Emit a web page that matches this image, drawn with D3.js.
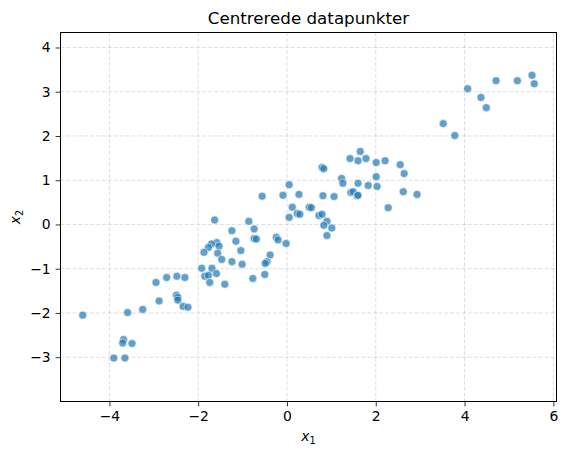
<!DOCTYPE html>
<html>
<head>
<meta charset="utf-8">
<script src="https://cdn.jsdelivr.net/npm/d3@7"></script>
<style>
  body { margin: 0; background: #fff; }
  svg { font-family: "DejaVu Sans", sans-serif; }
</style>
</head>
<body>
<svg id="chart" width="567" height="455"></svg>
<script>
// centred data points
var x1Values = [0.05, -0.56, -0.09, 0.27, 0.12, 0.23, 0.29, 0.05, 0.50, -1.63,
    -0.86, -1.24, -0.74, 5.52, 5.57, 5.19, 4.71, 4.07, 4.37, 4.49,
    3.52, 3.78, 1.65, 1.42, 1.60, 1.78, 2.01, 2.21, 2.55, 2.64,
    2.01, 0.79, 0.83, 1.23, 1.26, 1.60, 1.83, 2.03, 2.62, 2.93,
    1.44, 1.49, 1.58, 1.60, 0.81, 1.06, 2.28, 0.55, 0.72, 0.79,
    0.90, 0.83, 1.01, 0.90, -0.74, -0.69, -1.15, -0.24, -0.20, -0.02,
    -1.58, -1.70, -1.53, -1.77, -1.87, -1.56, -1.04, -1.47, -1.24, -1.01,
    -0.38, -0.45, -0.49, -0.50, -0.77, -1.92, -1.69, -1.59, -1.85, -1.77,
    -1.74, -1.40, -2.95, -2.71, -2.48, -2.30, -2.49, -2.46, -2.46, -2.34,
    -2.23, -2.88, -3.25, -3.59, -4.60, -3.68, -3.70, -3.49, -3.90, -3.65];
var x2Values = [0.90, 0.64, 0.66, 0.68, 0.39, 0.25, 0.23, 0.16, 0.39, 0.10,
    0.07, -0.14, -0.10, 3.37, 3.18, 3.25, 3.25, 3.07, 2.87, 2.64,
    2.28, 2.01, 1.65, 1.49, 1.44, 1.49, 1.40, 1.44, 1.35, 1.15,
    1.08, 1.29, 1.26, 1.04, 0.93, 0.93, 0.88, 0.86, 0.74, 0.68,
    0.72, 0.74, 0.65, 0.66, 0.65, 0.63, 0.38, 0.38, 0.20, 0.23,
    0.07, -0.02, -0.08, -0.25, -0.32, -0.33, -0.38, -0.29, -0.35, -0.43,
    -0.41, -0.44, -0.49, -0.52, -0.63, -0.65, -0.59, -0.79, -0.84, -0.90,
    -0.69, -0.84, -0.88, -1.13, -1.22, -0.99, -0.99, -1.11, -1.17, -1.15,
    -1.31, -1.35, -1.31, -1.20, -1.17, -1.20, -1.60, -1.65, -1.71, -1.85,
    -1.87, -1.73, -1.92, -1.99, -2.05, -2.60, -2.68, -2.69, -3.02, -3.02];
var xTicks = [-4, -2, 0, 2, 4, 6];
var yTicks = [-3, -2, -1, 0, 1, 2, 3, 4];

var points = x1Values.map(function(v, i) { return { x: v, y: x2Values[i] }; });

var plotLeft = 60.5, plotRight = 556.5, plotTop = 32.5, plotBottom = 401.5;
var svg = d3.select("#chart");

var x = d3.scaleLinear().domain([-5.09, 6.06]).range([61, 556]);
var y = d3.scaleLinear().domain([-3.99, 4.35]).range([401, 32]);

function fmt(d) { return d < 0 ? "\u2212" + Math.abs(d) : String(d); }

// grid
var grid = svg.append("g")
    .attr("stroke", "#b0b0b0")
    .attr("stroke-opacity", 0.5)
    .attr("stroke-width", 0.8)
    .attr("stroke-dasharray", "4.1,1.8");
grid.selectAll("line.gx").data(xTicks).enter().append("line")
    .attr("x1", function(d) { return x(d); })
    .attr("x2", function(d) { return x(d); })
    .attr("y1", plotTop).attr("y2", plotBottom);
grid.selectAll("line.gy").data(yTicks).enter().append("line")
    .attr("y1", function(d) { return y(d); })
    .attr("y2", function(d) { return y(d); })
    .attr("x1", plotLeft).attr("x2", plotRight);

// points
svg.append("g")
    .selectAll("circle")
    .data(points)
    .enter().append("circle")
    .attr("cx", function(d) { return x(d.x); })
    .attr("cy", function(d) { return y(d.y); })
    .attr("r", 4)
    .attr("fill", "#1f77b4")
    .attr("fill-opacity", 0.7)
    .attr("stroke", "#fff")
    .attr("stroke-opacity", 0.7)
    .attr("stroke-width", 0.8);

// axes
var xAxis = svg.append("g")
    .attr("transform", "translate(0," + plotBottom + ")")
    .call(d3.axisBottom(x).tickValues(xTicks).tickFormat(fmt).tickSize(4.9).tickPadding(4.9));
var yAxis = svg.append("g")
    .attr("transform", "translate(" + plotLeft + ",0)")
    .call(d3.axisLeft(y).tickValues(yTicks).tickFormat(fmt).tickSize(4.9).tickPadding(4.9));
[xAxis, yAxis].forEach(function(a) {
    a.select(".domain").remove();
    a.selectAll("line").attr("stroke", "#000").attr("stroke-width", 0.8);
    a.selectAll("text").attr("font-family", "DejaVu Sans").attr("font-size", 13.9).attr("fill", "#000");
});

// frame
svg.append("rect")
    .attr("x", plotLeft).attr("y", plotTop)
    .attr("width", plotRight - plotLeft).attr("height", plotBottom - plotTop)
    .attr("fill", "none").attr("stroke", "#000").attr("stroke-width", 1);

// title
svg.append("text")
    .attr("x", (plotLeft + plotRight) / 2).attr("y", 24)
    .attr("text-anchor", "middle")
    .attr("font-size", 16.7)
    .text("Centrerede datapunkter");

// axis labels
var xl = svg.append("text")
    .attr("x", (plotLeft + plotRight) / 2).attr("y", 441)
    .attr("text-anchor", "middle")
    .attr("font-size", 13.9);
xl.append("tspan").attr("font-style", "italic").text("x");
xl.append("tspan").attr("font-size", 9.7).attr("dy", 3).text("1");

var yl = svg.append("text")
    .attr("transform", "translate(20," + ((plotTop + plotBottom) / 2) + ") rotate(-90)")
    .attr("text-anchor", "middle")
    .attr("font-size", 13.9);
yl.append("tspan").attr("font-style", "italic").text("x");
yl.append("tspan").attr("font-size", 9.7).attr("dy", 3).text("2");
</script>
</body>
</html>
